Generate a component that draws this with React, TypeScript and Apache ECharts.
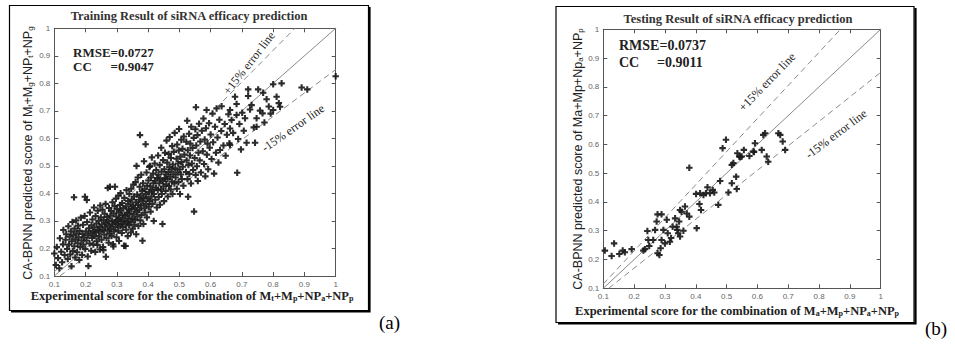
import React, { useEffect, useRef } from "react";
import * as echarts from "echarts";

const tickLabels = ["0.1", "0.2", "0.3", "0.4", "0.5", "0.6", "0.7", "0.8", "0.9", "1"];

const trainTitle = "Training Result of siRNA efficacy prediction";
const testTitle = "Testing Result of siRNA efficacy prediction";
const trainRmse = "RMSE=0.0727";
const trainCc = "=0.9047";
const testRmse = "RMSE=0.0737";
const testCc = "=0.9011";

const identityLine: [number, number][] = [[0.1, 0.1], [1, 1]];
const plus15Line: [number, number][] = [[0.1, 0.115], [0.8696, 1]];
const minus15Line: [number, number][] = [[0.1176, 0.1], [1, 0.85]];

const trainPoints: [number, number][] = [
  [0.105,0.140],[0.100,0.182],[0.112,0.165],[0.118,0.237],[0.108,0.205],[0.122,0.188],[0.129,0.267],[0.125,0.150],[0.116,0.128],[0.128,0.215],
  [0.133,0.176],[0.136,0.232],[0.138,0.252],[0.141,0.198],[0.143,0.162],[0.145,0.281],[0.147,0.214],[0.149,0.243],[0.151,0.178],[0.153,0.262],[0.155,0.135],[0.156,0.226],[0.158,0.296],[0.159,0.191],
  [0.161,0.248],[0.163,0.386],[0.164,0.208],[0.165,0.272],[0.167,0.167],[0.168,0.233],[0.170,0.302],[0.171,0.255],[0.173,0.186],[0.175,0.219],[0.176,0.283],[0.178,0.241],[0.180,0.158],[0.181,0.264],[0.183,0.205],[0.185,0.312],[0.187,0.229],[0.189,0.176],
  [0.190,0.253],[0.192,0.286],[0.193,0.214],[0.195,0.240],[0.197,0.318],[0.198,0.388],[0.199,0.198],[0.201,0.262],[0.203,0.229],[0.204,0.376],[0.205,0.296],[0.207,0.171],[0.208,0.247],[0.209,0.136],[0.211,0.273],[0.213,0.218],[0.214,0.331],[0.216,0.255],[0.218,0.192],[0.219,0.284],
  [0.221,0.238],[0.222,0.305],[0.224,0.262],[0.225,0.214],[0.227,0.349],[0.228,0.276],[0.229,0.245],[0.231,0.187],[0.232,0.318],[0.234,0.258],[0.235,0.291],[0.236,0.226],[0.238,0.213],[0.239,0.337],[0.240,0.268],[0.242,0.301],[0.243,0.244],[0.245,0.279],[0.246,0.196],[0.247,0.356],[0.248,0.262],[0.249,0.313],
  [0.251,0.232],[0.252,0.287],[0.254,0.341],[0.255,0.268],[0.256,0.205],[0.257,0.194],[0.258,0.303],[0.260,0.251],[0.261,0.326],[0.262,0.277],[0.264,0.362],[0.265,0.170],[0.266,0.292],[0.267,0.238],[0.269,0.314],[0.270,0.265],[0.271,0.420],[0.273,0.298],[0.274,0.221],[0.275,0.347],[0.276,0.283],[0.277,0.254],[0.278,0.424],[0.279,0.319],
  [0.281,0.271],[0.282,0.336],[0.283,0.245],[0.285,0.302],[0.286,0.368],[0.287,0.288],[0.288,0.215],[0.289,0.207],[0.290,0.327],[0.291,0.262],[0.293,0.354],[0.294,0.424],[0.294,0.296],[0.296,0.278],[0.297,0.381],[0.298,0.316],[0.299,0.241],[0.300,0.343],[0.302,0.289],[0.303,0.303],[0.304,0.265],[0.305,0.392],[0.306,0.331],[0.307,0.227],[0.309,0.311],[0.310,0.358],
  [0.311,0.283],[0.312,0.401],[0.313,0.338],[0.315,0.297],[0.316,0.256],[0.317,0.365],[0.318,0.322],[0.319,0.277],[0.321,0.346],[0.322,0.302],[0.323,0.210],[0.324,0.384],[0.326,0.318],[0.327,0.289],[0.328,0.209],[0.329,0.353],[0.330,0.268],[0.331,0.412],[0.333,0.331],[0.334,0.297],[0.335,0.245],[0.336,0.372],[0.337,0.310],[0.338,0.342],[0.339,0.284],[0.340,0.398],
  [0.341,0.326],[0.343,0.361],[0.344,0.295],[0.345,0.258],[0.346,0.417],[0.347,0.342],[0.348,0.378],[0.349,0.309],[0.351,0.272],[0.352,0.355],[0.353,0.432],[0.354,0.324],[0.355,0.389],[0.356,0.287],[0.358,0.347],[0.359,0.304],[0.360,0.441],[0.361,0.368],[0.362,0.252],[0.363,0.500],[0.364,0.333],[0.365,0.396],[0.366,0.316],[0.367,0.458],[0.368,0.359],[0.369,0.282],
  [0.371,0.377],[0.372,0.340],[0.373,0.424],[0.374,0.612],[0.375,0.302],[0.376,0.392],[0.377,0.355],[0.378,0.468],[0.379,0.322],[0.381,0.409],[0.382,0.228],[0.383,0.371],[0.384,0.437],[0.385,0.289],[0.386,0.384],[0.387,0.517],[0.388,0.346],[0.389,0.415],[0.391,0.331],[0.392,0.579],[0.393,0.398],[0.394,0.362],[0.395,0.476],[0.396,0.313],[0.397,0.428],[0.399,0.381],
  [0.401,0.447],[0.402,0.352],[0.403,0.405],[0.404,0.496],[0.405,0.373],[0.406,0.500],[0.407,0.426],[0.408,0.334],[0.409,0.458],[0.411,0.389],[0.412,0.531],[0.413,0.412],[0.414,0.362],[0.416,0.472],[0.417,0.437],[0.418,0.300],[0.419,0.398],[0.421,0.509],[0.422,0.446],[0.423,0.377],[0.425,0.421],[0.426,0.485],[0.428,0.349],[0.429,0.456],
  [0.431,0.412],[0.432,0.538],[0.433,0.468],[0.434,0.387],[0.436,0.437],[0.437,0.503],[0.438,0.359],[0.439,0.452],[0.441,0.415],[0.442,0.566],[0.443,0.479],[0.444,0.398],[0.446,0.289],[0.447,0.444],[0.448,0.521],[0.449,0.425],[0.451,0.372],[0.452,0.488],[0.453,0.456],[0.454,0.548],[0.456,0.409],[0.457,0.470],[0.458,0.433],[0.459,0.592],
  [0.461,0.512],[0.462,0.452],[0.463,0.389],[0.465,0.478],[0.466,0.543],[0.467,0.427],[0.468,0.496],[0.469,0.605],[0.471,0.461],[0.472,0.414],[0.473,0.529],[0.475,0.487],[0.476,0.443],[0.477,0.572],[0.478,0.398],[0.479,0.505],[0.481,0.470],[0.482,0.551],[0.484,0.436],[0.485,0.620],[0.487,0.491],[0.488,0.458],
  [0.491,0.526],[0.492,0.417],[0.493,0.578],[0.494,0.476],[0.496,0.509],[0.497,0.441],[0.498,0.556],[0.499,0.634],[0.501,0.487],[0.502,0.398],[0.503,0.533],[0.505,0.469],[0.506,0.595],[0.507,0.514],[0.508,0.452],[0.510,0.562],[0.511,0.497],[0.513,0.428],[0.514,0.607],[0.516,0.541],
  [0.521,0.478],[0.522,0.588],[0.523,0.520],[0.525,0.664],[0.526,0.452],[0.527,0.557],[0.528,0.388],[0.529,0.503],[0.531,0.617],[0.532,0.471],[0.534,0.538],[0.535,0.581],[0.537,0.436],[0.538,0.642],[0.540,0.509],[0.542,0.565],[0.544,0.485],[0.546,0.602],
  [0.547,0.334],[0.549,0.529],[0.551,0.633],[0.552,0.467],[0.553,0.713],[0.554,0.574],[0.556,0.499],[0.558,0.612],[0.559,0.445],[0.561,0.548],[0.563,0.653],[0.565,0.520],[0.567,0.589],[0.569,0.476],[0.572,0.628],[0.575,0.553],
  [0.577,0.672],[0.579,0.507],[0.581,0.596],[0.583,0.462],[0.585,0.637],[0.587,0.703],[0.588,0.541],[0.590,0.581],[0.592,0.488],[0.595,0.655],[0.597,0.566],[0.600,0.614],[0.603,0.525],[0.606,0.690],
  [0.608,0.586],[0.611,0.472],[0.614,0.642],[0.617,0.548],[0.619,0.709],[0.622,0.603],[0.625,0.512],[0.628,0.668],[0.630,0.558],[0.634,0.627],[0.635,0.717],[0.641,0.574],
  [0.645,0.652],[0.648,0.537],[0.652,0.613],[0.657,0.688],[0.660,0.582],[0.662,0.703],[0.662,0.636],[0.662,0.576],[0.667,0.667],[0.672,0.620],[0.678,0.751],[0.683,0.685],
  [0.683,0.725],[0.685,0.475],[0.688,0.598],[0.692,0.652],[0.697,0.560],[0.701,0.693],[0.706,0.628],[0.710,0.673],[0.715,0.584],[0.720,0.778],[0.720,0.754],[0.726,0.705],[0.731,0.721],[0.738,0.640],
  [0.742,0.584],[0.747,0.673],[0.747,0.642],[0.752,0.778],[0.758,0.701],[0.766,0.691],[0.768,0.766],[0.772,0.658],[0.779,0.742],[0.786,0.716],[0.792,0.690],[0.800,0.797],[0.800,0.703],[0.811,0.751],[0.818,0.728],[0.822,0.715],[0.827,0.800],[0.891,0.785],[0.909,0.778],[1.000,0.826]
];

const testPoints: [number, number][] = [
  [0.105,0.231],[0.135,0.256],[0.127,0.212],[0.152,0.219],[0.163,0.231],[0.170,0.225],[0.192,0.236],[0.230,0.231],[0.235,0.236],[0.243,0.299],
  [0.246,0.268],[0.249,0.247],[0.262,0.268],[0.268,0.303],[0.273,0.332],[0.276,0.357],[0.289,0.357],[0.276,0.222],[0.282,0.216],[0.286,0.239],
  [0.289,0.268],[0.295,0.303],[0.300,0.256],[0.306,0.338],[0.309,0.291],[0.316,0.262],[0.325,0.314],[0.333,0.343],[0.338,0.314],[0.340,0.303],
  [0.343,0.291],[0.349,0.280],[0.346,0.332],[0.349,0.372],[0.354,0.366],[0.365,0.384],[0.371,0.360],[0.379,0.349],[0.379,0.519],[0.401,0.428],
  [0.403,0.309],[0.412,0.393],[0.414,0.430],[0.417,0.372],[0.425,0.424],[0.433,0.430],[0.438,0.451],[0.446,0.430],[0.455,0.442],[0.460,0.433],
  [0.473,0.390],[0.479,0.473],[0.487,0.587],[0.498,0.616],[0.506,0.433],[0.517,0.465],[0.522,0.535],[0.531,0.488],[0.533,0.445],[0.535,0.569],
  [0.541,0.558],[0.549,0.558],[0.556,0.581],[0.574,0.560],[0.587,0.575],[0.592,0.604],[0.614,0.581],[0.619,0.633],[0.625,0.639],[0.630,0.558],
  [0.635,0.540],[0.668,0.639],[0.674,0.633],[0.682,0.610],[0.690,0.581],[0.517,0.529],[0.544,0.556],[0.589,0.574],[0.360,0.300],[0.320,0.275]
];

const plusSymbol = "path://M3.4,0H6.6V3.4H10V6.6H6.6V10H3.4V6.6H0V3.4H3.4Z";
const serif = "Liberation Serif";
const sans = "Liberation Sans";

function axisPair(gridIndex: number, dim: "x" | "y") {
  const common = {
    gridIndex,
    type: "value",
    min: 0.1,
    max: 1,
    interval: 0.1,
    splitLine: { show: false },
    axisLine: { show: true, onZero: false, lineStyle: { color: "#555", width: 1 } },
    axisTick: { show: true, inside: true, length: 4, lineStyle: { color: "#555" } },
  };
  const fmt = (v: number) => tickLabels[Math.round(v * 10) - 1] ?? "";
  const main = {
    ...common,
    position: dim === "x" ? "bottom" : "left",
    axisLabel: { show: true, fontSize: 8, color: "#666", fontFamily: sans, margin: 4, formatter: fmt },
  };
  const opp = {
    ...common,
    position: dim === "x" ? "top" : "right",
    axisLabel: { show: false },
  };
  return [main, opp];
}

function lineSeries(gi: number, data: [number, number][], dashed: boolean) {
  return {
    type: "line",
    xAxisIndex: gi * 2,
    yAxisIndex: gi * 2,
    data,
    symbol: "none",
    silent: true,
    lineStyle: { color: "#8a8a8a", width: 1, type: dashed ? [6, 4] : "solid" },
    z: 1,
  };
}

function richLabel(parts: [string, string][], size: number, bold: boolean, family: string) {
  const text = parts.map(([t, s]) => `{n|${t}}` + (s ? `{s|${s}}` : "")).join("");
  const w = bold ? "bold" : "normal";
  const sub = Math.round(size * 0.65);
  return {
    text,
    font: `${w} ${size}px ${family}`,
    rich: {
      n: { font: `${w} ${size}px ${family}`, fontSize: size, fontFamily: family, fontWeight: w, fill: "#222", lineHeight: size + 3, verticalAlign: "bottom" },
      s: { font: `${w} ${sub}px ${family}`, fontSize: sub, fontFamily: family, fontWeight: w, fill: "#222", lineHeight: size - 1, verticalAlign: "bottom" },
    },
  };
}

export default function App() {
  const ref = useRef<HTMLDivElement>(null);
  useEffect(() => {
    if (!ref.current) return;
    const chart = echarts.init(ref.current, undefined, { renderer: "svg" });
    const [x0, x0t] = axisPair(0, "x");
    const [x1, x1t] = axisPair(1, "x");
    const [y0, y0r] = axisPair(0, "y");
    const [y1, y1r] = axisPair(1, "y");
    const deg = Math.PI / 180;

    const txt = (x: number, y: number, text: string, font: number, bold: boolean, extra: any = {}) => ({
      type: "text",
      x,
      y,
      rotation: extra.rotation ?? 0,
      z: 100,
      style: {
        text,
        fontSize: font,
        fontFamily: extra.family ?? serif,
        fontWeight: bold ? "bold" : "normal",
        fill: extra.fill ?? "#222",
        textAlign: extra.align ?? "center",
        textVerticalAlign: "middle",
      },
    });

    const richText = (x: number, y: number, lbl: any, rotation: number) => ({
      type: "text",
      x,
      y,
      rotation,
      z: 100,
      style: { ...lbl, textAlign: "center", textVerticalAlign: "middle" },
    });

    chart.setOption({
      animation: false,
      backgroundColor: "#fff",
      grid: [
        { left: 54.3, top: 28.3, width: 281.4, height: 247.7 },
        { left: 603.3, top: 29.3, width: 277.4, height: 259 },
      ],
      xAxis: [x0, x0t, x1, x1t].map((a: any, i) => ({ ...a, gridIndex: i < 2 ? 0 : 1 })),
      yAxis: [y0, y0r, y1, y1r].map((a: any, i) => ({ ...a, gridIndex: i < 2 ? 0 : 1 })),
      series: [
        lineSeries(0, identityLine, false),
        lineSeries(0, plus15Line, true),
        lineSeries(0, minus15Line, true),
        lineSeries(1, identityLine, false),
        lineSeries(1, plus15Line, true),
        lineSeries(1, minus15Line, true),
        {
          type: "scatter",
          xAxisIndex: 0,
          yAxisIndex: 0,
          data: trainPoints,
          symbol: plusSymbol,
          symbolSize: 6.5,
          itemStyle: { color: "#1a1a1a", opacity: 0.92 },
          z: 3,
        },
        {
          type: "scatter",
          xAxisIndex: 2,
          yAxisIndex: 2,
          data: testPoints,
          symbol: plusSymbol,
          symbolSize: 6.5,
          itemStyle: { color: "#1a1a1a", opacity: 0.92 },
          z: 3,
        },
      ],
      graphic: [
        { type: "rect", shape: { x: 9.5, y: 5.5, width: 359, height: 305 }, style: { fill: "none", stroke: "#000", lineWidth: 1.2 }, z: 50 },
        { type: "polyline", shape: { points: [[11, 311.5], [369.5, 311.5], [369.5, 7]] }, style: { fill: "none", stroke: "#000", lineWidth: 2.2 }, z: 50 },
        { type: "rect", shape: { x: 556, y: 6.5, width: 358, height: 316 }, style: { fill: "none", stroke: "#000", lineWidth: 1.2 }, z: 50 },
        { type: "polyline", shape: { points: [[558, 323.5], [915.5, 323.5], [915.5, 8]] }, style: { fill: "none", stroke: "#000", lineWidth: 2.2 }, z: 50 },
        txt(189, 16, trainTitle, 12.5, true, { fill: "#333" }),
        txt(738, 19, testTitle, 12.5, true, { fill: "#333" }),
        txt(73, 52, trainRmse, 13, true, { align: "left" }),
        txt(73, 66, "CC", 13, true, { align: "left" }),
        txt(110.5, 66, trainCc, 13, true, { align: "left" }),
        txt(619, 45, testRmse, 14, true, { align: "left" }),
        txt(619, 62, "CC", 14, true, { align: "left" }),
        txt(657, 62, testCc, 14, true, { align: "left" }),
        txt(249, 63, "+15% error line", 12, false, { rotation: 52 * deg }),
        txt(293, 128, "-15% error line", 12, false, { rotation: 35 * deg }),
        txt(767, 82, "+15% error line", 12, false, { rotation: 46 * deg }),
        txt(836, 134, "-15% error line", 12, false, { rotation: 37 * deg }),
        richText(192, 295, richLabel([["Experimental score for the combination of M", "t"], ["+M", "p"], ["+NP", "a"], ["+NP", "p"]], 12.5, true, serif), 0),
        richText(737, 310, richLabel([["Experimental score for the combination of M", "a"], ["+M", "p"], ["+NP", "a"], ["+NP", "p"]], 12.5, true, serif), 0),
        richText(27, 153, richLabel([["CA-BPNN predicted score of M", "t"], ["+M", "g"], ["+NP", "t"], ["+NP", "g"]], 12.5, false, sans), 90 * deg),
        richText(577, 159, richLabel([["CA-BPNN predicted score of Ma+Mp+Np", "a"], ["+NP", "p"]], 12.5, false, sans), 90 * deg),
        txt(379, 322, "(a)", 19, false, { align: "left", fill: "#000" }),
        txt(925, 328, "(b)", 19, false, { align: "left", fill: "#000" }),
      ],
    });
    return () => chart.dispose();
  }, []);
  return (
    <div
      ref={ref}
      style={{ position: "fixed", left: 0, top: 0, width: 955, height: 347, background: "#fff" }}
    />
  );
}
